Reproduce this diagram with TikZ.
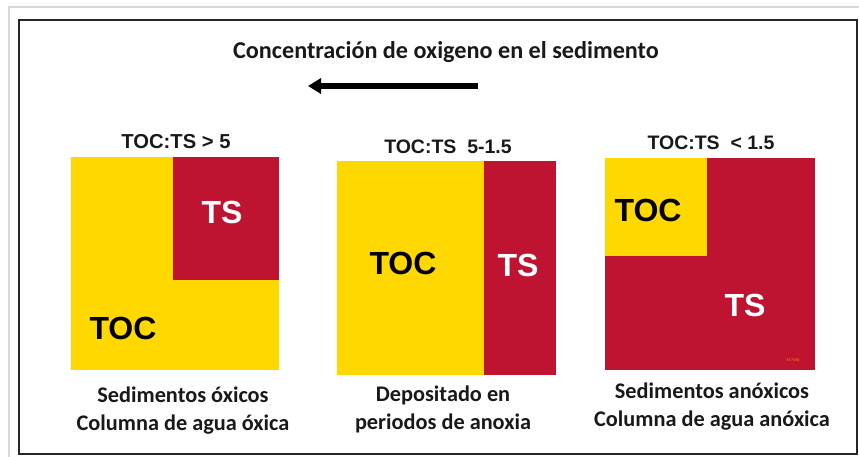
\documentclass[tikz,border=0pt]{standalone}
\usepackage{fontspec}
\setmainfont{Carlito}
\newfontfamily\arialb{Liberation Sans}[BoldFont={* Bold}]
\usetikzlibrary{arrows.meta}
\definecolor{tocy}{RGB}{255,216,0}
\definecolor{tsr}{RGB}{190,20,50}
\definecolor{txt}{RGB}{25,25,25}
\tikzset{
  yelfill/.style={fill=tocy, draw=none},
  redfill/.style={fill=tsr, draw=none},
  big/.style={font=\arialb\bfseries\fontsize{32}{32}\selectfont, inner sep=0pt, anchor=center},
  ratio/.style={font=\arialb\bfseries\fontsize{19.5}{19.5}\selectfont, text=txt, inner sep=0pt},
  lbl/.style={font=\bfseries\fontsize{22.3}{28}\selectfont, text=txt, align=center, inner sep=0pt},
}
\begin{document}
\begin{tikzpicture}[x=1pt,y=-1pt]
\useasboundingbox (0,0) rectangle (859,457);
\fill[white] (0,0) rectangle (859,457);
% outer page lines
\draw[black!15, line width=1.5] (9,457) -- (9,7) -- (859,7);
% frame
\draw[black!85, line width=2] (19,20) rectangle (857,454);
% title and arrow
\node[font=\bfseries\fontsize{24.2}{24.2}\selectfont, text=txt, inner sep=0pt] (title) at (446,52) {Concentración de oxigeno en el sedimento};
\coordinate (arrs) at (478,86);
\coordinate (arre) at (308,86);
\draw[line width=6, -{Triangle[length=13pt,width=15pt]}] (arrs) -- (arre);
% square 1
\fill[yelfill] (71,157) rectangle (279,370);
\fill[redfill] (173,157) rectangle (279,280);
\node[ratio, font=\arialb\bfseries\fontsize{20.2}{20.2}\selectfont] (r1) at (176,142) {TOC:TS > 5};
\node[big, text=white] (ts1) at (222,212) {TS};
\node[big, text=black] (toc1) at (123,328) {TOC};
\node[lbl] (c1) at (183,411) {Sedimentos óxicos\\Columna de agua óxica};
% square 2
\fill[yelfill] (337,161) rectangle (556,375);
\fill[redfill] (484,161) rectangle (556,375);
\node[ratio] (r2) at (448,147) {TOC:TS\ \ 5-1.5};
\node[big, text=black] (toc2) at (403,263) {TOC};
\node[big, text=white] (ts2) at (518,265) {TS};
\node[lbl] (c2) at (443,409) {Depositado en\\periodos de anoxia};
% square 3
\fill[redfill] (605,158) rectangle (815,370);
\fill[yelfill] (605,158) rectangle (707,256);
\node[ratio] (r3) at (711,143) {TOC:TS\ \ < 1.5};
\node[big, text=black] (toc3) at (648,210) {TOC};
\node[big, text=white] (ts3) at (745,305) {TS};
\node[font=\fontsize{4}{4}\selectfont, text=orange!80!yellow, inner sep=0pt] (id) at (793,360) {SS 7190};
\node[lbl] (c3) at (712,407) {Sedimentos anóxicos\\Columna de agua anóxica};
\end{tikzpicture}
\end{document}
